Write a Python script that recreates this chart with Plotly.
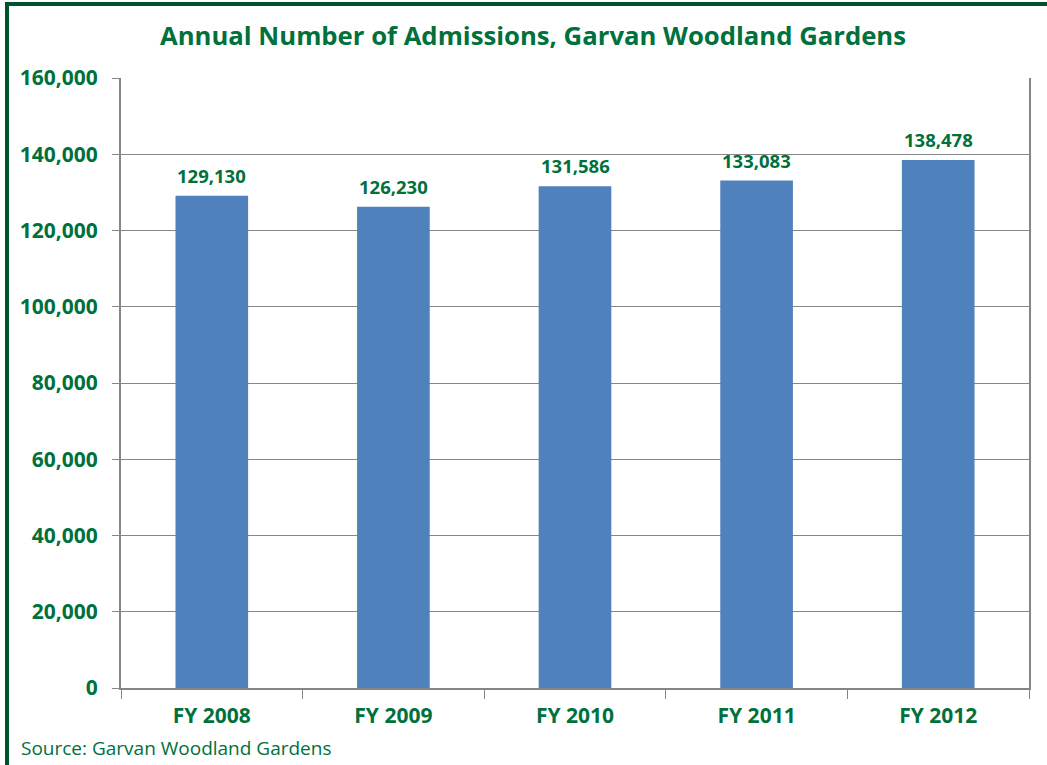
import plotly.graph_objects as go

categories = ["FY 2008", "FY 2009", "FY 2010", "FY 2011", "FY 2012"]
admissions = [129130, 126230, 131586, 133083, 138478]
y_ticks = [0, 20000, 40000, 60000, 80000, 100000, 120000, 140000, 160000]
y_tick_labels = ["0", "20,000", "40,000", "60,000", "80,000", "100,000", "120,000", "140,000", "160,000"]

GREEN = "#00703C"
FONT = "Open Sans"

W, H = 1047, 765
PL, PR, PT, PB = 121, 1029, 78, 688  # plot area in page pixels

fig = go.Figure()
fig.add_trace(go.Bar(
    x=categories,
    y=admissions,
    marker=dict(color="#4F81BD", line=dict(width=0)),
    width=0.4,
    cliponaxis=False,
))

for c, v in zip(categories, admissions):
    fig.add_annotation(
        x=c, y=v, text=f"<b>{v:,}</b>", showarrow=False,
        xanchor="center", yanchor="bottom", yshift=6,
        font=dict(family=FONT, size=18.5, color=GREEN),
    )

fig.update_layout(
    width=W, height=H,
    paper_bgcolor="white", plot_bgcolor="white",
    margin=dict(l=PL, r=W - PR, t=PT, b=H - PB),
    showlegend=False,
    title=dict(
        text="<b>Annual Number of Admissions, Garvan Woodland Gardens</b>",
        x=533 / W, xanchor="center", y=1 - 36 / H, yanchor="middle",
        font=dict(family=FONT, size=25.7, color=GREEN),
    ),
    xaxis=dict(
        type="category",
        showline=True, linecolor="#868686", linewidth=2,
        ticks="outside", tickson="boundaries", ticklen=9, tickcolor="#868686", tickwidth=1,
        tickfont=dict(family=FONT, size=21, color=GREEN, weight="bold"),
        ticklabelstandoff=8,
        showgrid=False,
    ),
    yaxis=dict(
        range=[0, 160000],
        tickvals=y_ticks, ticktext=y_tick_labels,
        showline=True, linecolor="#868686", linewidth=2, mirror=True,
        ticks="outside", ticklen=7, tickcolor="#868686",
        tickfont=dict(family=FONT, size=21, color=GREEN, weight="bold"),
        ticklabelstandoff=10,
        showgrid=True, gridcolor="#868686", gridwidth=1,
        zeroline=False,
    ),
)

fig.add_annotation(
    text="Source: Garvan Woodland Gardens",
    xref="paper", yref="paper",
    x=(19 - PL) / (PR - PL), y=(PB - 748) / (PB - PT),
    xanchor="left", yanchor="middle", showarrow=False,
    font=dict(family=FONT, size=19, color=GREEN),
)

fig.add_shape(
    type="rect", xref="paper", yref="paper",
    x0=(7 - PL) / (PR - PL), x1=1.2,
    y0=-0.3, y1=(PB - 4) / (PB - PT),
    line=dict(color="#00522B", width=4),
    fillcolor="rgba(0,0,0,0)", layer="above",
)

fig.write_html(
    "out.html",
    config={"displayModeBar": False},
    post_script="document.body.style.margin='0';document.body.style.overflow='hidden';",
)
